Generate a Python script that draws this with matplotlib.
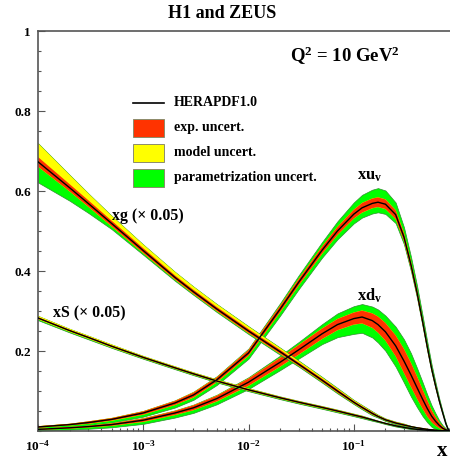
import numpy as np
import matplotlib
matplotlib.use('Agg')
import matplotlib.pyplot as plt
from matplotlib.patches import Rectangle
from matplotlib.lines import Line2D
from matplotlib.ticker import FixedLocator, MultipleLocator, LogLocator, NullFormatter

plt.rcParams['font.family'] = ['Liberation Serif', 'DejaVu Serif']
plt.rcParams['font.weight'] = 'bold'
plt.rcParams['mathtext.fontset'] = 'custom'
plt.rcParams['mathtext.rm'] = 'Liberation Serif:bold'
plt.rcParams['mathtext.bf'] = 'Liberation Serif:bold'
plt.rcParams['mathtext.it'] = 'Liberation Serif:bold'

# ---------------- data ----------------
x = [1e-4, 2e-4, 3e-4, 5e-4, 1e-3, 2e-3, 3e-3, 5e-3, 1e-2, 2e-2, 3e-2, 5e-2, 7e-2,
     0.1, 0.12, 0.15, 0.17, 0.2, 0.25, 0.3, 0.35, 0.4, 0.45, 0.5, 0.55, 0.6,
     0.65, 0.7, 0.75, 0.8]

# xg (x 0.05)
xg = [0.673, 0.608, 0.569, 0.519, 0.451, 0.384, 0.348, 0.305, 0.250, 0.198, 0.167,
      0.127, 0.100, 0.072, 0.059, 0.044, 0.0365, 0.028, 0.020, 0.015, 0.011, 0.008,
      0.006, 0.004, 0.003, 0.002, 0.0012, 0.0006, 0.0002, 0.0]
xg_exp = [0.012, 0.009, 0.008, 0.007, 0.006, 0.005, 0.005, 0.005, 0.005, 0.005, 0.004,
          0.004, 0.004, 0.003, 0.003, 0.003, 0.002, 0.002, 0.002, 0.002, 0.001, 0.001,
          0.001, 0.001, 0.001, 0.001, 0.0, 0.0, 0.0, 0.0]
xg_mod_up = [0.045, 0.031, 0.024, 0.018, 0.014, 0.013, 0.012, 0.011, 0.010, 0.008, 0.007,
             0.006, 0.005, 0.004, 0.004, 0.003, 0.003, 0.002, 0.002, 0.002, 0.001, 0.001,
             0.001, 0.001, 0.001, 0.0, 0.0, 0.0, 0.0, 0.0]
xg_mod_dn = [0.003, 0.003, 0.003, 0.003, 0.003, 0.003, 0.003, 0.003, 0.003, 0.003, 0.002,
             0.002, 0.002, 0.002, 0.002, 0.002, 0.001, 0.001, 0.001, 0.001, 0.001, 0.001,
             0.0, 0.0, 0.0, 0.0, 0.0, 0.0, 0.0, 0.0]
xg_par_up = [0.0, 0.0, 0.0, 0.0, 0.0, 0.001, 0.002, 0.003, 0.004, 0.004, 0.004,
             0.004, 0.004, 0.003, 0.003, 0.003, 0.002, 0.002, 0.002, 0.002, 0.001, 0.001,
             0.001, 0.001, 0.001, 0.0, 0.0, 0.0, 0.0, 0.0]
xg_par_dn = [0.050, 0.031, 0.022, 0.012, 0.008, 0.006, 0.005, 0.005, 0.005, 0.005, 0.004,
             0.004, 0.004, 0.003, 0.003, 0.003, 0.002, 0.002, 0.002, 0.002, 0.001, 0.001,
             0.001, 0.001, 0.001, 0.0, 0.0, 0.0, 0.0, 0.0]

# xS (x 0.05)
xS = [0.2825, 0.251, 0.234, 0.212, 0.184, 0.158, 0.143, 0.125, 0.103, 0.083, 0.072,
      0.059, 0.050, 0.040, 0.035, 0.028, 0.024, 0.019, 0.013, 0.009, 0.006, 0.004,
      0.003, 0.002, 0.0013, 0.0008, 0.0005, 0.0003, 0.0001, 0.0]
xS_exp = [0.002, 0.002, 0.002, 0.002, 0.002, 0.002, 0.002, 0.002, 0.002, 0.002, 0.002,
          0.002, 0.002, 0.002, 0.002, 0.001, 0.001, 0.001, 0.001, 0.001, 0.001, 0.0,
          0.0, 0.0, 0.0, 0.0, 0.0, 0.0, 0.0, 0.0]
xS_mod_up = [0.005, 0.004, 0.004, 0.004, 0.003, 0.003, 0.003, 0.003, 0.003, 0.002, 0.002,
             0.002, 0.002, 0.002, 0.002, 0.001, 0.001, 0.001, 0.001, 0.001, 0.0, 0.0,
             0.0, 0.0, 0.0, 0.0, 0.0, 0.0, 0.0, 0.0]
xS_mod_dn = [0.003, 0.003, 0.003, 0.003, 0.002, 0.002, 0.002, 0.002, 0.002, 0.002, 0.002,
             0.002, 0.002, 0.001, 0.001, 0.001, 0.001, 0.001, 0.001, 0.0, 0.0, 0.0,
             0.0, 0.0, 0.0, 0.0, 0.0, 0.0, 0.0, 0.0]
xS_par_up = [0.0, 0.0, 0.0, 0.0, 0.001, 0.001, 0.001, 0.002, 0.002, 0.002, 0.002,
             0.002, 0.002, 0.002, 0.002, 0.002, 0.001, 0.001, 0.001, 0.001, 0.001, 0.0,
             0.0, 0.0, 0.0, 0.0, 0.0, 0.0, 0.0, 0.0]
xS_par_dn = [0.004, 0.003, 0.003, 0.002, 0.002, 0.002, 0.002, 0.002, 0.002, 0.002, 0.002,
             0.002, 0.002, 0.002, 0.002, 0.002, 0.001, 0.001, 0.001, 0.001, 0.001, 0.0,
             0.0, 0.0, 0.0, 0.0, 0.0, 0.0, 0.0, 0.0]

# xu_v
xuv = [0.010, 0.016, 0.021, 0.029, 0.045, 0.070, 0.090, 0.128, 0.195, 0.305, 0.372,
       0.452, 0.500, 0.542, 0.558, 0.569, 0.572, 0.567, 0.541, 0.485, 0.415, 0.345,
       0.275, 0.210, 0.155, 0.112, 0.075, 0.045, 0.018, 0.0]
xuv_exp = [0.002, 0.002, 0.003, 0.003, 0.004, 0.005, 0.006, 0.006, 0.007, 0.008, 0.008,
           0.009, 0.010, 0.011, 0.012, 0.012, 0.012, 0.012, 0.011, 0.010, 0.009, 0.008,
           0.007, 0.006, 0.005, 0.004, 0.003, 0.002, 0.001, 0.0]
xuv_mod = [0.001, 0.001, 0.001, 0.002, 0.002, 0.002, 0.003, 0.003, 0.003, 0.003, 0.003,
           0.003, 0.003, 0.003, 0.003, 0.003, 0.003, 0.003, 0.003, 0.003, 0.003, 0.003,
           0.002, 0.002, 0.002, 0.002, 0.001, 0.001, 0.001, 0.0]
xuv_par_up = [0.001, 0.001, 0.001, 0.002, 0.003, 0.004, 0.005, 0.006, 0.008, 0.012, 0.015,
              0.018, 0.022, 0.027, 0.030, 0.032, 0.033, 0.032, 0.028, 0.022, 0.018, 0.015,
              0.013, 0.011, 0.009, 0.007, 0.005, 0.003, 0.002, 0.0]
xuv_par_dn = [0.004, 0.005, 0.006, 0.007, 0.008, 0.010, 0.010, 0.011, 0.012, 0.014, 0.015,
              0.016, 0.018, 0.020, 0.021, 0.022, 0.022, 0.021, 0.018, 0.015, 0.013, 0.011,
              0.010, 0.009, 0.007, 0.006, 0.004, 0.003, 0.002, 0.0]

# xd_v
xdv = [0.004, 0.008, 0.011, 0.016, 0.027, 0.045, 0.058, 0.081, 0.122, 0.172, 0.203,
       0.243, 0.266, 0.281, 0.285, 0.276, 0.266, 0.248, 0.213, 0.175, 0.140, 0.108,
       0.080, 0.056, 0.037, 0.024, 0.014, 0.007, 0.003, 0.0]
xdv_exp = [0.001, 0.002, 0.002, 0.003, 0.004, 0.005, 0.006, 0.007, 0.009, 0.011, 0.012,
           0.013, 0.014, 0.015, 0.016, 0.018, 0.020, 0.022, 0.026, 0.030, 0.030, 0.028,
           0.024, 0.020, 0.015, 0.011, 0.007, 0.004, 0.002, 0.0]
xdv_mod = [0.001, 0.001, 0.001, 0.001, 0.002, 0.002, 0.002, 0.003, 0.003, 0.003, 0.003,
           0.003, 0.003, 0.003, 0.003, 0.003, 0.003, 0.003, 0.003, 0.003, 0.003, 0.003,
           0.002, 0.002, 0.002, 0.001, 0.001, 0.001, 0.0, 0.0]
xdv_par_up = [0.001, 0.001, 0.002, 0.002, 0.003, 0.004, 0.005, 0.006, 0.008, 0.012, 0.015,
              0.020, 0.024, 0.027, 0.028, 0.030, 0.032, 0.034, 0.040, 0.045, 0.045, 0.040,
              0.035, 0.028, 0.022, 0.016, 0.010, 0.006, 0.003, 0.0]
xdv_par_dn = [0.003, 0.004, 0.005, 0.006, 0.008, 0.010, 0.011, 0.012, 0.014, 0.016, 0.018,
              0.022, 0.028, 0.035, 0.036, 0.038, 0.040, 0.042, 0.045, 0.045, 0.045, 0.040,
              0.035, 0.028, 0.022, 0.016, 0.010, 0.006, 0.003, 0.0]

x_ticks = [1e-4, 1e-3, 1e-2, 1e-1]
x_tick_labels = [r'$\mathbf{10^{-4}}$', r'$\mathbf{10^{-3}}$', r'$\mathbf{10^{-2}}$', r'$\mathbf{10^{-1}}$']
y_ticks = [0.2, 0.4, 0.6, 0.8, 1.0]
y_tick_labels = ['0.2', '0.4', '0.6', '0.8', '1']

legend_labels = ['HERAPDF1.0', 'exp. uncert.', 'model uncert.', 'parametrization uncert.']

# ---------------- styling ----------------
RED = '#ff3300'
YELLOW = '#ffff00'
GREEN = '#00ff00'
AXC = '#555555'

W, H = 450, 462
fig = plt.figure(figsize=(W / 100, H / 100), dpi=100)
ax = fig.add_axes([38 / W, 1 - 431 / H, (459 - 38) / W, 400 / H])
ax.set_xscale('log')
ax.set_xlim(1e-4, 1)
ax.set_ylim(0, 1)

X = np.array(x)


def draw(c, exp, mup, mdn, pup, pdn):
    c = np.array(c); exp = np.array(exp)
    mup = np.array(mup); mdn = np.array(mdn)
    pup = np.array(pup); pdn = np.array(pdn)
    g_lo = c - np.sqrt(exp ** 2 + mdn ** 2 + pdn ** 2)
    g_hi = c + np.sqrt(exp ** 2 + mup ** 2 + pup ** 2)
    y_lo = c - np.sqrt(exp ** 2 + mdn ** 2)
    y_hi = c + np.sqrt(exp ** 2 + mup ** 2)
    ax.fill_between(X, g_lo, g_hi, facecolor=GREEN, edgecolor='#2f8f2f', lw=0.5, zorder=2)
    ax.fill_between(X, y_lo, y_hi, facecolor=YELLOW, edgecolor='none', lw=0, zorder=2)
    ax.fill_between(X, c - exp, c + exp, facecolor=RED, edgecolor='none', lw=0, zorder=2)
    ax.plot(X, c, color='black', lw=1.0, zorder=3)


draw(xuv, xuv_exp, xuv_mod, xuv_mod, xuv_par_up, xuv_par_dn)
draw(xdv, xdv_exp, xdv_mod, xdv_mod, xdv_par_up, xdv_par_dn)
draw(xS, xS_exp, xS_mod_up, xS_mod_dn, xS_par_up, xS_par_dn)
draw(xg, xg_exp, xg_mod_up, xg_mod_dn, xg_par_up, xg_par_dn)

# axes / ticks
for s in ax.spines.values():
    s.set_color(AXC)
    s.set_linewidth(1.2)
ax.xaxis.set_major_locator(FixedLocator(x_ticks))
ax.set_xticklabels(x_tick_labels)
ax.xaxis.set_minor_locator(LogLocator(base=10, subs=np.arange(2, 10)))
ax.xaxis.set_minor_formatter(NullFormatter())
ax.yaxis.set_major_locator(FixedLocator(y_ticks))
ax.set_yticklabels(y_tick_labels)
ax.yaxis.set_minor_locator(MultipleLocator(0.05))
ax.tick_params(which='both', direction='in', top=False, right=False, color=AXC, width=0.8,
               labelsize=9.5)
ax.tick_params(which='major', length=5)
ax.tick_params(which='minor', length=2.5)
ax.tick_params(axis='x', pad=6)
ax.tick_params(axis='y', pad=5)
for lab in ax.get_xticklabels() + ax.get_yticklabels():
    lab.set_fontweight('bold')


def fx(px):
    return px / W


def fy(py):
    return 1 - py / H


fig.text(fx(222), fy(13), 'H1 and ZEUS', ha='center', va='center', fontsize=13, fontweight='bold')
fig.text(fx(290), fy(56), r'$\mathbf{Q^2}$ = 10 GeV$\mathbf{^2}$', ha='left', va='center',
         fontsize=13.5, fontweight='bold')
fig.text(fx(442), fy(461), 'x', ha='center', va='bottom', fontsize=15, fontweight='bold')

fig.text(fx(112), fy(216), 'xg (× 0.05)', ha='left', va='center', fontsize=11.4, fontweight='bold')
fig.text(fx(53), fy(313), 'xS (× 0.05)', ha='left', va='center', fontsize=11.4, fontweight='bold')
fig.text(fx(357), fy(176), r'$\mathbf{xu_v}$', ha='left', va='center', fontsize=12)
fig.text(fx(357), fy(296), r'$\mathbf{xd_v}$', ha='left', va='center', fontsize=12)

# legend (drawn by hand)
fig.add_artist(Line2D([fx(133), fx(164)], [fy(103), fy(103)], color='black', lw=1.2))
for py0, col in [(119, RED), (144, YELLOW), (169, GREEN)]:
    fig.add_artist(Rectangle((fx(133), fy(py0 + 18)), 31 / W, 18 / H, facecolor=col,
                             edgecolor='#8c8c6c', lw=0.7, transform=fig.transFigure))
for py0, lab in zip([103, 128, 153, 178], legend_labels):
    fig.text(fx(174), fy(py0), lab, ha='left', va='center', fontsize=10, fontweight='bold')

fig.savefig('out.png', dpi=100)
